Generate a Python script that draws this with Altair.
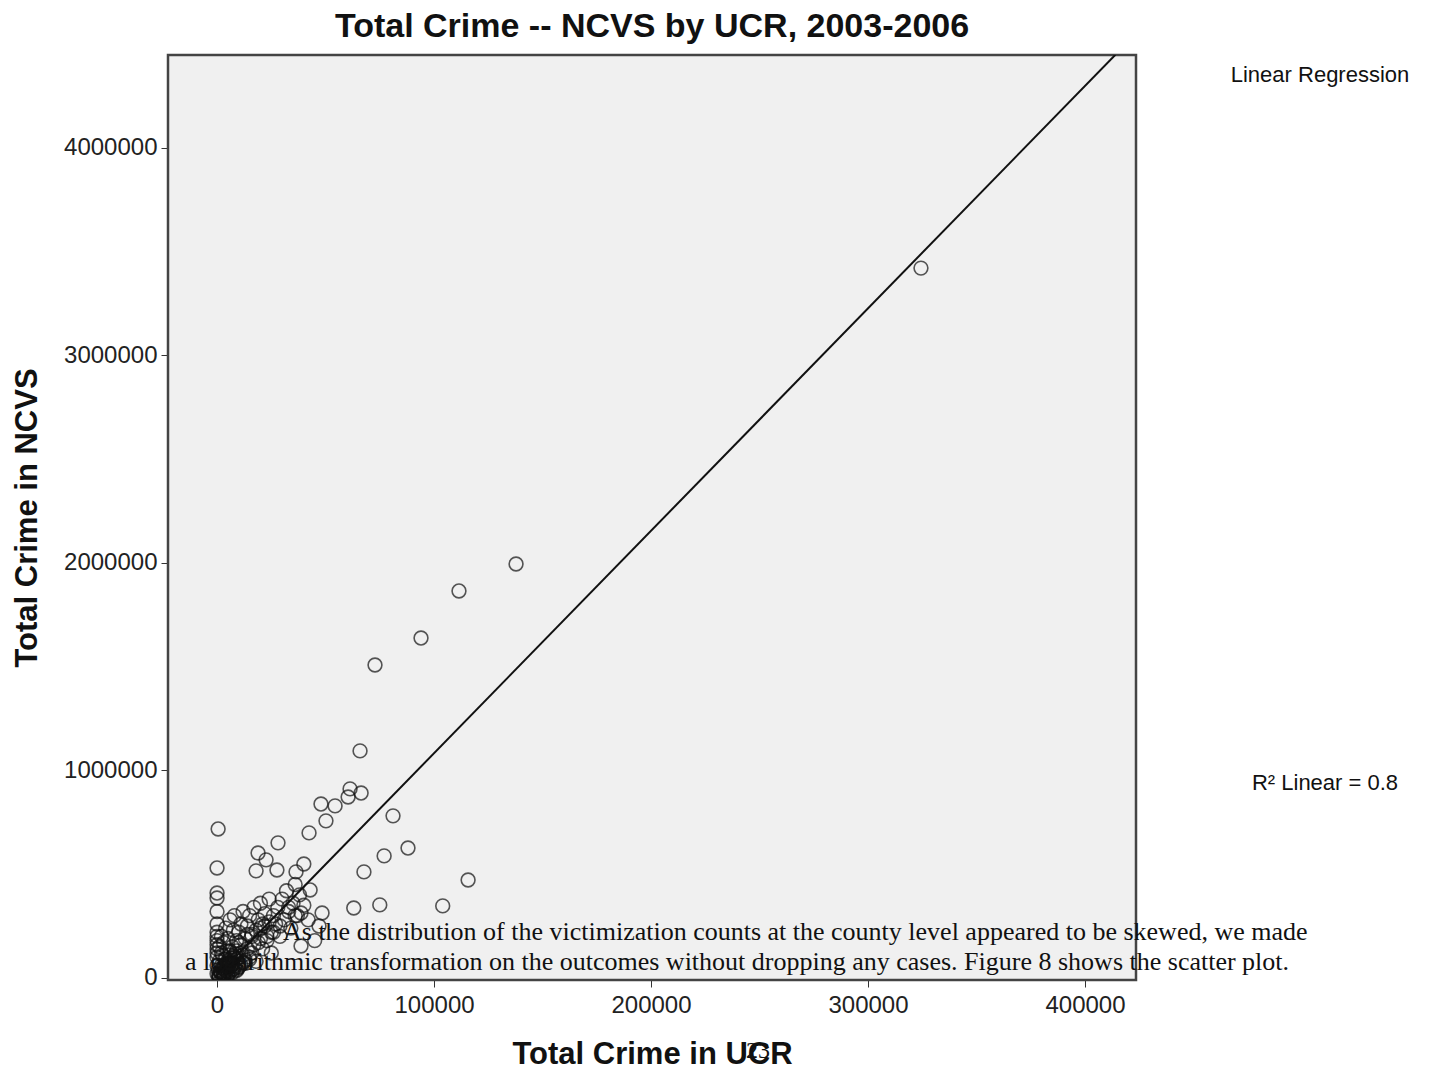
import altair as alt
import pandas as pd

# outlying points (UCR, NCVS)
ucr_out = [324400, 137800, 111500, 94000, 72800, 65900, 61300, 66400, 60400, 47900, 54400, 50200,
           81100, 42400, 500, 88000, 28100, 77000, 18900, 22600, 0, 40000, 115700, 67700, 18000,
           27600, 36400, 42900, 0, 0, 75000, 63000, 104000, 48400, 38700, 38700]
ncvs_out = [3421000, 1995000, 1865000, 1638000, 1508000, 1094000, 911000, 891000, 872000, 838000,
            829000, 757000, 781000, 699000, 718000, 626000, 651000, 588000, 602000, 569000, 530000,
            549000, 472000, 511000, 516000, 520000, 511000, 424000, 409000, 385000, 352000, 337000,
            347000, 313000, 313000, 154000]
# dense cluster near the origin
ucr_cl = [0, 0, 0, 0, 0, 0, 0, 0, 500, 800, 1000, 1200, 1500, 2000, 2000, 2500, 3000, 3000, 3500,
          4000, 4000, 4500, 5000, 5000, 5500, 6000, 6000, 6500, 7000, 7000, 7500, 8000, 8000, 8500,
          9000, 9000, 9500, 10000, 10000, 11000, 11000, 12000, 12000, 13000, 13000, 14000, 14000,
          15000, 15000, 16000, 16000, 17000, 17000, 18000, 18000, 19000, 20000, 20000, 21000, 22000,
          22000, 23000, 24000, 25000, 25000, 26000, 27000, 28000, 29000, 30000, 31000, 32000, 33000,
          34000, 35000, 36000, 37000, 38000, 40000, 42000, 1000, 2000, 3000, 4000, 5000, 6000, 7000,
          8000, 3000, 5000, 9000, 12000, 15000, 2000, 4000, 6000, 10000, 14000, 20000, 24000,
          1000, 2000, 3000, 4000, 5000, 6000, 7000, 8000, 9000, 10000, 11000, 12000, 13000, 1500,
          2500, 3500, 4500, 5500, 6500, 7500, 8500, 0, 0, 0, 1000, 3000, 5000, 7000, 9000, 11000,
          16000, 19000, 21000, 23000, 26000, 29000, 33000, 36000, 45000, 47000]
ncvs_cl = [20000, 60000, 100000, 140000, 180000, 220000, 260000, 320000, 40000, 10000, 80000, 150000,
           30000, 60000, 200000, 110000, 20000, 170000, 90000, 50000, 240000, 130000, 30000, 190000,
           70000, 110000, 280000, 60000, 150000, 40000, 230000, 100000, 300000, 60000, 180000, 130000,
           80000, 220000, 50000, 160000, 260000, 110000, 320000, 190000, 70000, 140000, 250000, 90000,
           300000, 200000, 120000, 160000, 340000, 230000, 80000, 280000, 190000, 360000, 140000,
           250000, 310000, 180000, 380000, 220000, 120000, 300000, 260000, 340000, 200000, 380000,
           280000, 420000, 320000, 240000, 360000, 450000, 300000, 400000, 350000, 280000, 15000,
           25000, 45000, 35000, 55000, 75000, 65000, 95000, 10000, 15000, 40000, 70000, 100000,
           120000, 90000, 130000, 170000, 210000, 240000, 270000,
           5000, 12000, 8000, 20000, 15000, 30000, 25000, 45000, 35000, 55000, 65000, 75000, 85000,
           35000, 50000, 60000, 70000, 85000, 95000, 105000, 115000, 120000, 160000, 200000, 5000,
           25000, 45000, 65000, 90000, 120000, 210000, 170000, 260000, 200000, 220000, 250000,
           340000, 300000, 180000, 250000]

ucr = ucr_out + ucr_cl
ncvs = ncvs_out + ncvs_cl
df = pd.DataFrame({'ucr': ucr, 'ncvs': ncvs})

line_x = [-1000, 414000]
line_y = [10.72 * v + 11000 for v in line_x]
line_df = pd.DataFrame({'ucr': line_x, 'ncvs': line_y})

xs = alt.Scale(domain=[-22600, 423500], nice=False, zero=False)
ys = alt.Scale(domain=[-10000, 4448000], nice=False, zero=False)

xax = alt.Axis(values=[0, 100000, 200000, 300000, 400000], format='d', grid=False,
               title='Total Crime in UCR', titleFontSize=31, titleFontWeight='bold',
               labelFontSize=24, titlePadding=22, tickSize=7, labelPadding=6,
               domain=False, labelColor='#222', titleColor='#111', tickColor='#333')
yax = alt.Axis(values=[0, 1000000, 2000000, 3000000, 4000000], format='d', grid=False,
               title='Total Crime in NCVS', titleFontSize=31, titleFontWeight='bold',
               labelFontSize=24, titlePadding=20, tickSize=7, labelPadding=4,
               domain=False, labelColor='#222', titleColor='#111', tickColor='#333')

W, H = 968, 925
bg = alt.Chart(pd.DataFrame({'a': [0]})).mark_rect(
    fill='#f0f0f0', stroke='#444', strokeWidth=2.5).encode(
    x=alt.value(0), x2=alt.value(W), y=alt.value(0), y2=alt.value(H))

pts = alt.Chart(df).mark_point(shape='circle', size=190, filled=False, color='#111',
                               strokeWidth=1.6, clip=True).encode(
    x=alt.X('ucr:Q', scale=xs, axis=xax),
    y=alt.Y('ncvs:Q', scale=ys, axis=yax))

reg = alt.Chart(line_df).mark_line(color='#111', strokeWidth=2, clip=True).encode(
    x=alt.X('ucr:Q', scale=xs), y=alt.Y('ncvs:Q', scale=ys))

def label(txt, x, y, size, font='Liberation Sans', align='center'):
    return alt.Chart(pd.DataFrame({'t': [txt]})).mark_text(
        fontSize=size, font=font, align=align, color='#111').encode(
        text='t:N', x=alt.value(x), y=alt.value(y))

notes = (label('Linear Regression', 1152, 20, 22)
         + label('R² Linear = 0.8', 1157, 728, 22)
         + label('As the distribution of the victimization counts at the county level appeared to be skewed, we made',
                 115, 877, 26, 'Liberation Serif', 'left')
         + label('a logarithmic transformation on the outcomes without dropping any cases. Figure 8 shows the scatter plot.',
                 17, 907, 26, 'Liberation Serif', 'left')
         + label('23', 590, 996, 24, 'Liberation Serif'))

chart = (bg + pts + reg + notes).properties(
    width=W, height=H,
    autosize=alt.AutoSizeParams(type='none'),
    padding={'left': 160, 'top': 47, 'right': 297, 'bottom': 90},
    title=alt.TitleParams('Total Crime -- NCVS by UCR, 2003-2006', fontSize=34,
                          fontWeight='bold', font='Liberation Sans', color='#111', offset=10)
).configure_view(stroke=None
).configure(font='Liberation Sans')

chart.save('out.html', embed_options={'renderer': 'svg', 'actions': False})
